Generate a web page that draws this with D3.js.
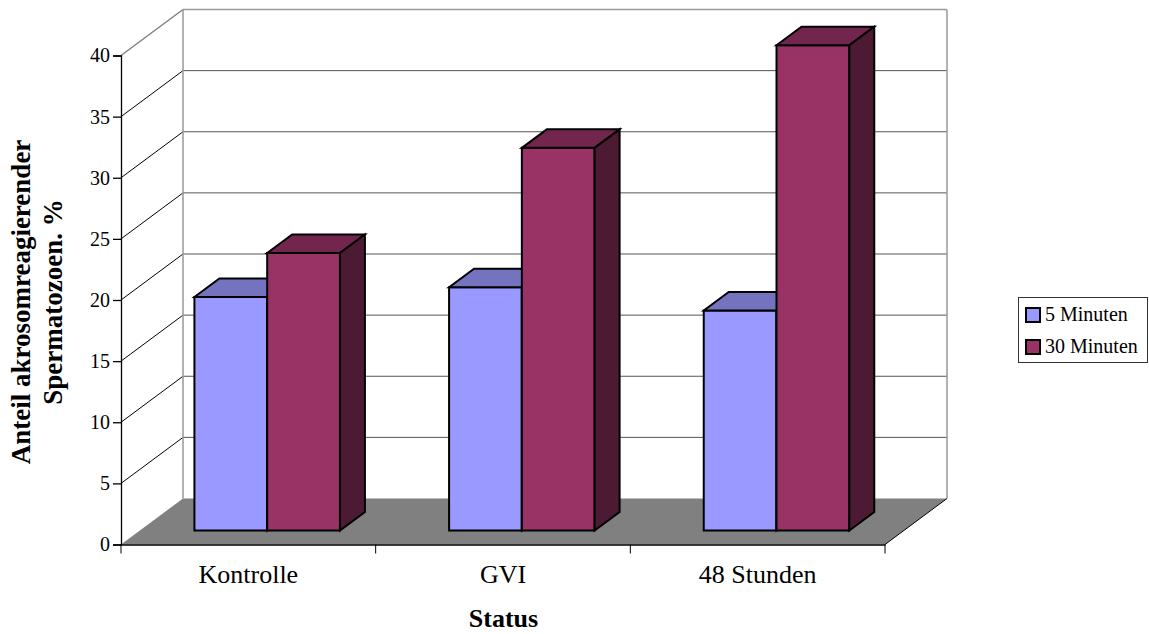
<!DOCTYPE html>
<html>
<head>
<meta charset="utf-8">
<script src="https://cdn.jsdelivr.net/npm/d3@7"></script>
<style>
  html, body { margin: 0; padding: 0; background: #fff; }
  svg { display: block; }
  text { font-family: "Liberation Serif", serif; fill: #000; }
</style>
</head>
<body>
<div id="vis"></div>
<script>
const FRAME_WIDTH = 1149;
const FRAME_HEIGHT = 634;

const categories = ["Kontrolle", "GVI", "48 Stunden"];
const seriesNames = ["5 Minuten", "30 Minuten"];
const minuten5 = [19.1, 19.9, 18];
const minuten30 = [22.7, 31.3, 39.7];
const yTicks = [0, 5, 10, 15, 20, 25, 30, 35, 40];

const colors = ["#9999ff", "#993366"];
const topColors = ["#7373bf", "#73264d"];
const sideColors = ["#4d4d80", "#4d1a33"];

// front plane of the 3d box, the back wall is shifted by DEPTH
const PLOT = {left: 121, right: 885, top: 55.5, bottom: 544.5};
const DEPTH = {x: 62, y: -46};
// bars stand in the middle of the floor
const BAR_NEAR = 0.304;
const BAR_FAR = 0.707;

const x = d3.scaleBand().domain(categories).range([PLOT.left, PLOT.right]);
const y = d3.scaleLinear().domain([0, 40]).range([PLOT.bottom, PLOT.top]);
const barX = d3.scaleBand().domain(d3.range(seriesNames.length)).range([0, x.bandwidth()]).paddingOuter(0.75).paddingInner(0);
const series = [minuten5, minuten30];

const FRAME = d3.select("#vis")
  .append("svg")
    .attr("width", FRAME_WIDTH)
    .attr("height", FRAME_HEIGHT);

const poly = pts => pts.map(p => p.join(",")).join(" ");
// a point at depth d (0 front, 1 back)
const at = (px, py, d) => [px + DEPTH.x * d, py + DEPTH.y * d];

// floor
FRAME.append("polygon")
  .attr("points", poly([at(PLOT.left, y(0), 0), at(PLOT.left, y(0), 1), at(PLOT.right, y(0), 1), at(PLOT.right, y(0), 0)]))
  .attr("fill", "#808080");

// grid lines, side wall then back wall
const grid = FRAME.append("g");
yTicks.filter(d => d > 0).forEach(d => {
  const top = d === 40;
  grid.append("line")
    .attr("x1", PLOT.left).attr("y1", y(d))
    .attr("x2", at(PLOT.left, y(d), 1)[0]).attr("y2", at(PLOT.left, y(d), 1)[1])
    .attr("stroke", top ? "#808080" : "#000")
    .attr("stroke-width", top ? 1.5 : 1);
  grid.append("line")
    .attr("x1", at(PLOT.left, y(d), 1)[0]).attr("y1", at(PLOT.left, y(d), 1)[1])
    .attr("x2", at(PLOT.right, y(d), 1)[0]).attr("y2", at(PLOT.right, y(d), 1)[1])
    .attr("stroke", top ? "#999" : "#555")
    .attr("stroke-width", top ? 1.5 : 1);
});

// back wall edges
[PLOT.left, PLOT.right].forEach(px => {
  grid.append("line")
    .attr("x1", at(px, y(0), 1)[0]).attr("y1", at(px, y(0), 1)[1])
    .attr("x2", at(px, y(40), 1)[0]).attr("y2", at(px, y(40), 1)[1])
    .attr("stroke", "#999")
    .attr("stroke-width", 1.5);
});

// right edge of the floor
grid.append("line")
  .attr("x1", PLOT.right).attr("y1", y(0))
  .attr("x2", at(PLOT.right, y(0), 1)[0]).attr("y2", at(PLOT.right, y(0), 1)[1])
  .attr("stroke", "#000");

// bars
const bars = FRAME.append("g")
  .attr("stroke", "#000")
  .attr("stroke-width", 2)
  .attr("stroke-linejoin", "miter");

categories.forEach((c, i) => {
  series.forEach((values, s) => {
    const x0 = x(c) + barX(s);
    const x1 = x0 + barX.bandwidth();
    const yTop = y(values[i]);
    const yBase = y(0);
    bars.append("polygon") // front
      .attr("points", poly([at(x0, yTop, BAR_NEAR), at(x1, yTop, BAR_NEAR), at(x1, yBase, BAR_NEAR), at(x0, yBase, BAR_NEAR)]))
      .attr("fill", colors[s]);
    bars.append("polygon") // top
      .attr("points", poly([at(x0, yTop, BAR_NEAR), at(x0, yTop, BAR_FAR), at(x1, yTop, BAR_FAR), at(x1, yTop, BAR_NEAR)]))
      .attr("fill", topColors[s]);
    bars.append("polygon") // side
      .attr("points", poly([at(x1, yTop, BAR_NEAR), at(x1, yTop, BAR_FAR), at(x1, yBase, BAR_FAR), at(x1, yBase, BAR_NEAR)]))
      .attr("fill", sideColors[s]);
  });
});

// axes
const yAxis = FRAME.append("g")
  .attr("transform", `translate(${PLOT.left},0)`)
  .call(d3.axisLeft(y).tickValues(yTicks).tickSize(8).tickPadding(3));
const xAxis = FRAME.append("g")
  .attr("transform", `translate(0,${PLOT.bottom})`)
  .call(d3.axisBottom(x).tickSize(0).tickPadding(20));
xAxis.selectAll(".edge")
  .data([...categories.map(c => x(c)), PLOT.right])
  .join("line")
    .attr("class", "edge")
    .attr("x1", d => d).attr("x2", d => d)
    .attr("y1", 0).attr("y2", 9)
    .attr("stroke", "#000");

yAxis.selectAll("path, line").attr("stroke", "#000").attr("stroke-width", 1.3);
xAxis.selectAll("path").attr("stroke", "#000").attr("stroke-width", 1.3);
yAxis.selectAll("text").attr("font-size", 20).attr("font-family", "Liberation Serif").attr("fill", "#000");
xAxis.selectAll("text").attr("font-size", 26).attr("font-family", "Liberation Serif").attr("fill", "#000");

// axis titles
FRAME.append("text")
  .attr("x", 503.5).attr("y", 627)
  .attr("text-anchor", "middle")
  .attr("font-size", 26)
  .attr("font-weight", "bold")
  .text("Status");

const yTitle = FRAME.append("text")
  .attr("transform", "translate(30,302) rotate(-90)")
  .attr("text-anchor", "middle")
  .attr("font-size", 27)
  .attr("font-weight", "bold");
yTitle.append("tspan").attr("x", 0).attr("dy", 0).text("Anteil akrosomreagierender");
yTitle.append("tspan").attr("x", 0).attr("dy", 32).text("Spermatozoen. %");

// legend
const legend = FRAME.append("g").attr("transform", "translate(1018,297)");
legend.append("rect")
  .attr("x", 0.5).attr("y", 0.5)
  .attr("width", 129).attr("height", 65)
  .attr("fill", "#fff")
  .attr("stroke", "#333");
seriesNames.forEach((name, i) => {
  legend.append("rect")
    .attr("x", 8).attr("y", 11 + i * 32)
    .attr("width", 14).attr("height", 14)
    .attr("fill", colors[i])
    .attr("stroke", "#000")
    .attr("stroke-width", 2);
  legend.append("text")
    .attr("x", 27).attr("y", 24 + i * 32)
    .attr("font-size", 20)
    .text(name);
});
</script>
</body>
</html>
